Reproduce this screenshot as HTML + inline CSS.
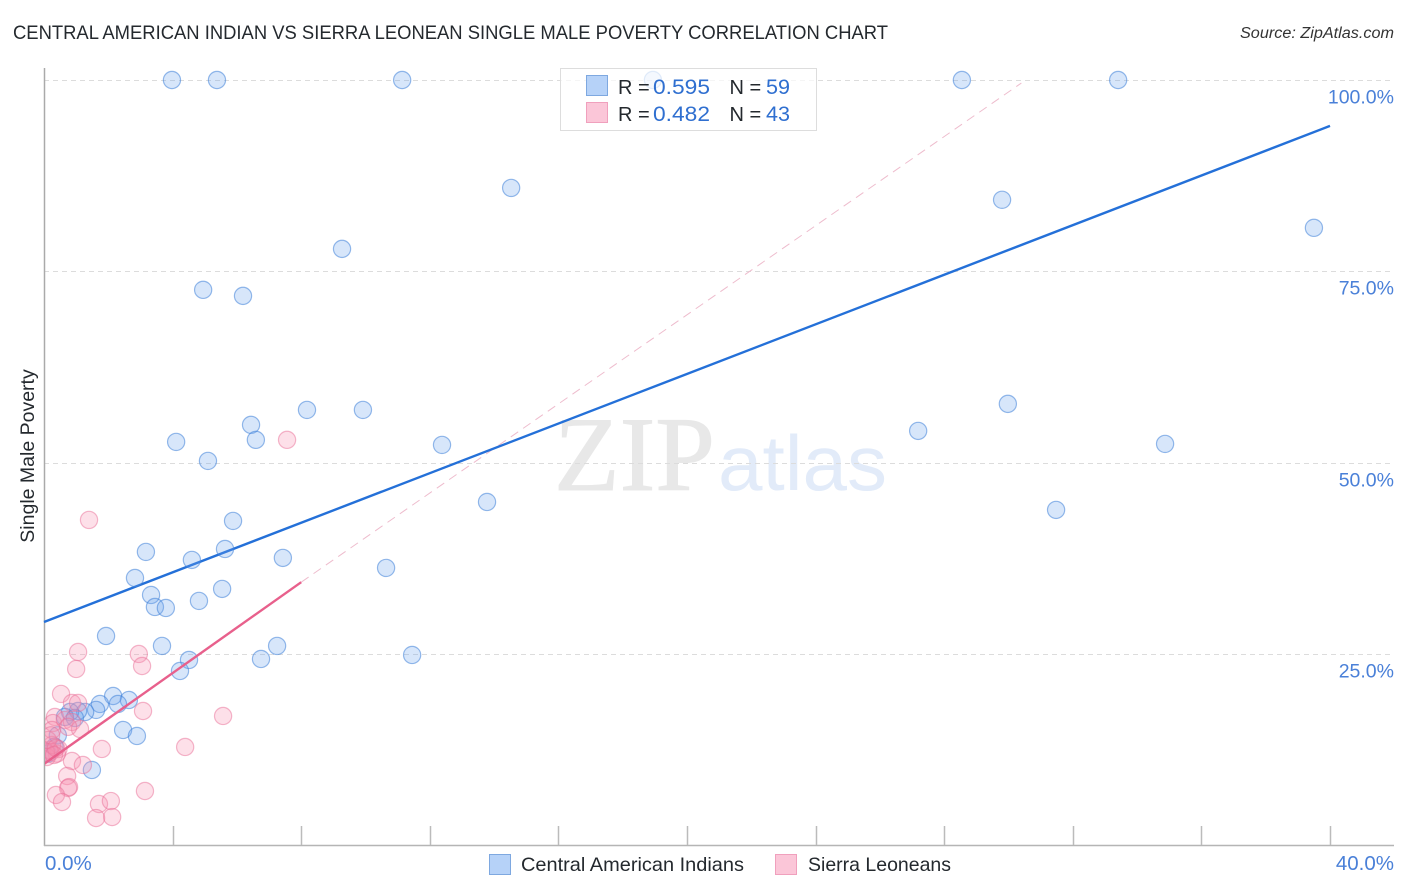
<!DOCTYPE html>
<html lang="en">
<head>
<meta charset="utf-8">
<title>Central American Indian vs Sierra Leonean Single Male Poverty Correlation Chart</title>
<style>
html,body{margin:0;padding:0;background:#fff;width:1406px;height:892px;overflow:hidden}
svg{display:block;font-family:"Liberation Sans",sans-serif}
</style>
</head>
<body>
<svg id="chart" width="1406" height="892" viewBox="0 0 1406 892" xmlns="http://www.w3.org/2000/svg">
  <defs>
    <clipPath id="plot-clip"><rect x="45" y="60" width="1349" height="786"/></clipPath>
  </defs>
  <text x="13" y="39" font-size="19" fill="#24292e" textLength="875" lengthAdjust="spacingAndGlyphs">CENTRAL AMERICAN INDIAN VS SIERRA LEONEAN SINGLE MALE POVERTY CORRELATION CHART</text>
  <text x="1394" y="38" font-size="15.5" font-style="italic" fill="#333" text-anchor="end" textLength="154" lengthAdjust="spacingAndGlyphs">Source: ZipAtlas.com</text>

  <g id="watermark">
    <text x="554" y="490" font-family="'Liberation Serif',serif" font-size="106" fill="#e8e8e8" stroke="#e8e8e8" stroke-width="1" textLength="161" lengthAdjust="spacingAndGlyphs">ZIP</text>
    <text x="718" y="490" font-size="78" fill="#e2ebf9" textLength="169" lengthAdjust="spacingAndGlyphs">atlas</text>
  </g>

  <g id="grid"></g>
  <g id="axes"></g>
  <g id="trends"></g>
  <g id="points" clip-path="url(#plot-clip)"></g>

  <g>
    <rect x="560.5" y="68.5" width="256" height="62" fill="#fff" fill-opacity="0.72" stroke="#ddd"/>
    <rect x="586.5" y="75.5" width="21" height="20" fill="#b6d2f8" stroke="#7ea8e0"/>
    <rect x="586.5" y="102.5" width="21" height="20" fill="#fbc6d8" stroke="#f0a0bd"/>
    <g font-size="20" fill="#24292e">
      <text x="618" y="94">R =</text>
      <text x="729.5" y="94">N =</text>
      <text x="618" y="121">R =</text>
      <text x="729.5" y="121">N =</text>
    </g>
    <g font-size="21.5" fill="#2f6fd0">
      <text x="653" y="94" textLength="57" lengthAdjust="spacingAndGlyphs">0.595</text>
      <text x="766" y="94" textLength="24" lengthAdjust="spacingAndGlyphs">59</text>
      <text x="653" y="121" textLength="57" lengthAdjust="spacingAndGlyphs">0.482</text>
      <text x="766" y="121" textLength="24" lengthAdjust="spacingAndGlyphs">43</text>
    </g>
  </g>

  <text transform="translate(34,456) rotate(-90)" font-size="19.5" fill="#24292e" text-anchor="middle">Single Male Poverty</text>

  <g>
    <rect x="489.5" y="854.5" width="21" height="20" fill="#b6d2f8" stroke="#7ea8e0"/>
    <text x="521" y="871" font-size="19.5" fill="#24292e" textLength="223" lengthAdjust="spacingAndGlyphs">Central American Indians</text>
    <rect x="775.5" y="854.5" width="21" height="20" fill="#fbc6d8" stroke="#f0a0bd"/>
    <text x="808" y="871" font-size="19.5" fill="#24292e" textLength="143" lengthAdjust="spacingAndGlyphs">Sierra Leoneans</text>
  </g>
</svg>

<script>
// Chart data (percent units)
const xTickValues = [0, 4, 8, 12, 16, 20, 24, 28, 32, 36, 40];
const yTickValues = [25, 50, 75, 100];
const yTickLabels = ["25.0%", "50.0%", "75.0%", "100.0%"];
const xEndLabels = ["0.0%", "40.0%"];

const blueX = [3.98,5.38,11.14,18.94,28.55,33.41,14.53,29.80,39.50,9.27,4.95,6.19,8.18,9.92,29.98,6.44,6.59,4.11,5.10,12.38,27.19,34.87,13.78,31.48,5.88,5.63,3.17,4.60,7.43,2.83,10.64,5.54,3.33,4.82,3.45,3.79,1.93,3.67,7.25,6.75,4.51,11.45,4.23,2.15,2.64,2.30,1.74,1.62,1.28,1.06,0.81,0.65,0.96,2.46,2.89,1.49,0.43,0.33,0.12];
const blueY = [100,100,100,100,100,100,85.9,84.35,80.69,77.94,72.59,71.80,56.9,56.9,57.69,54.95,52.99,52.72,50.24,52.33,54.16,52.46,44.88,43.84,42.40,38.74,38.35,37.31,37.57,34.95,36.26,33.52,32.73,31.95,31.16,31.03,27.37,26.07,26.07,24.37,24.24,24.89,22.80,19.53,19.01,18.49,18.49,17.71,17.44,17.57,17.44,16.79,16.66,15.09,14.31,9.87,14.4,12.9,12.0];

const pinkX = [7.56,1.40,1.06,1.00,2.95,3.05,0.53,0.87,1.06,3.08,5.57,0.34,0.28,0.65,0.87,1.12,0.25,4.39,1.80,0.45,0.87,0.40,0.20,0.09,0.16,1.21,0.72,0.78,0.75,0.37,0.56,1.71,2.08,1.62,2.12,3.14,0.25,0.06,0.12,0.22,0.37,0.75,0.31];
const pinkY = [52.99,42.53,25.28,23.06,25.02,23.45,19.80,18.62,18.62,17.57,16.92,16.79,16.0,16.4,16.14,15.22,15.09,12.87,12.61,12.6,11.04,12.0,12.2,11.56,12.48,10.52,9.08,7.64,7.51,6.6,5.68,5.42,5.81,3.59,3.72,7.12,13.13,12.2,13.78,14.4,12.74,15.5,11.83];

const blueTrendX = [0, 40];
const blueTrendY = [29.2, 94.0];
const pinkTrendX = [0, 8];
const pinkTrendY = [10.65, 34.4];
const pinkExtendX = [8, 30.4];
const pinkExtendY = [34.4, 99.6];

// Axis functions
const NS = "http://www.w3.org/2000/svg";
function xScale(v){ return 44 + v * 32.15; }
function yScale(v){ return 845.5 - v * 7.655; }
function make(tag, attrs, parent){
  const el = document.createElementNS(NS, tag);
  for (const k in attrs) el.setAttribute(k, attrs[k]);
  parent.appendChild(el);
  return el;
}

const gridG = document.getElementById('grid');
const axesG = document.getElementById('axes');
const trendsG = document.getElementById('trends');
const pointsG = document.getElementById('points');

yTickValues.forEach(function(v, i){
  const y = Math.round(yScale(v)) + 0.5;
  const line = make('line', {x1:44, x2:1394, y1:y, y2:y, stroke:'#dcdcdc', 'stroke-width':1, 'stroke-dasharray':'5 4'}, gridG);
  
  
  const label = make('text', {x:1394, y:y + 23, 'font-size':19.5, fill:'#4a80d8', 'text-anchor':'end'}, axesG);
  label.textContent = yTickLabels[i];
  
  
});

const yAxis = make('line', {x1:44.5, x2:44.5, y1:68, y2:846, stroke:'#aaa', 'stroke-width':1.5}, axesG);


const xAxis = make('line', {x1:44, x2:1394, y1:845.5, y2:845.5, stroke:'#b5b5b5', 'stroke-width':1.5}, axesG);



xTickValues.slice(1).forEach(function(v){
  const x = Math.round(xScale(v)) + 0.5;
  const tick = make('line', {x1:x, x2:x, y1:826, y2:845, stroke:'#bbb', 'stroke-width':1.5}, axesG);
  
  
});

const xStart = make('text', {x:45, y:870, 'font-size':20.5, fill:'#4a80d8'}, axesG);
xStart.textContent = xEndLabels[0];


const xEnd = make('text', {x:1394, y:870, 'font-size':20.5, fill:'#4a80d8', 'text-anchor':'end'}, axesG);
xEnd.textContent = xEndLabels[1];



const extLine = make('line', {x1:xScale(pinkExtendX[0]), y1:yScale(pinkExtendY[0]), x2:xScale(pinkExtendX[1]), y2:yScale(pinkExtendY[1]), stroke:'#eebccd', 'stroke-width':1, 'stroke-dasharray':'9 6'}, trendsG);



blueX.forEach(function(v, i){
  const c = make('circle', {cx:xScale(v), cy:yScale(blueY[i]), r:8.6, fill:'#6ea6ee', 'fill-opacity':0.28, stroke:'#3f82d8', 'stroke-opacity':0.55, 'stroke-width':1.2}, pointsG);
  
  
});
pinkX.forEach(function(v, i){
  const c = make('circle', {cx:xScale(v), cy:yScale(pinkY[i]), r:8.6, fill:'#f78fb0', 'fill-opacity':0.28, stroke:'#ea6f98', 'stroke-opacity':0.5, 'stroke-width':1.2}, pointsG);
  
  
});

const blueLine = make('line', {x1:xScale(blueTrendX[0]), y1:yScale(blueTrendY[0]), x2:xScale(blueTrendX[1]), y2:yScale(blueTrendY[1]), stroke:'#2470d8', 'stroke-width':2.4}, trendsG);


const pinkLine = make('line', {x1:xScale(pinkTrendX[0]), y1:yScale(pinkTrendY[0]), x2:xScale(pinkTrendX[1]), y2:yScale(pinkTrendY[1]), stroke:'#e8608c', 'stroke-width':2.4}, pointsG);


</script>
</body>
</html>
